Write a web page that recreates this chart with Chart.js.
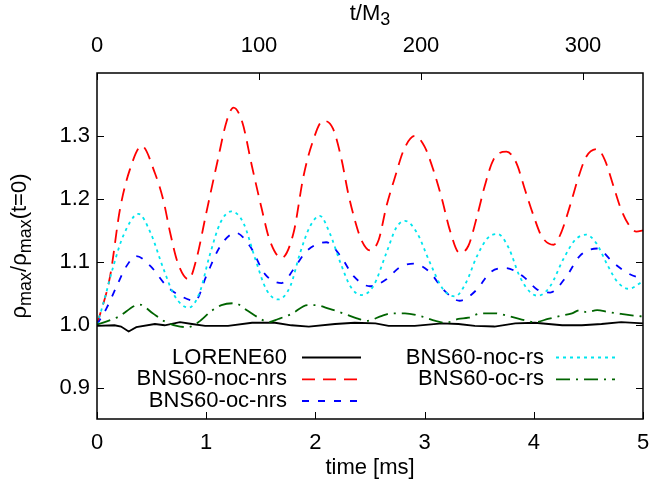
<!DOCTYPE html>
<html>
<head>
<meta charset="utf-8">
<script src="https://cdn.jsdelivr.net/npm/chart.js@4.4.1/dist/chart.umd.min.js"></script>
<style>
  html, body { margin: 0; padding: 0; background: #fff; }
  #wrap { width: 649px; height: 485px; }
</style>
</head>
<body>
<div id="wrap"><canvas id="rhoChart" width="649" height="485"></canvas></div>
<script>
// DATA (time in ms, rho_max / rho_max(t=0))
const seriesNames = ['LORENE60', 'BNS60-noc-nrs', 'BNS60-oc-nrs', 'BNS60-noc-rs', 'BNS60-oc-rs'];

const loreneTime = [0, 0.16, 0.22, 0.29, 0.36, 0.53, 0.62, 0.76, 0.87, 0.99, 1.2, 1.42, 1.63, 1.78, 1.94, 2.18, 2.36, 2.55, 2.67, 2.91, 3.16, 3.31, 3.46, 3.64, 3.83, 4.01, 4.26, 4.44, 4.62, 4.8, 5.0];
const loreneRho  = [0.998, 0.999, 0.997, 0.989, 0.996, 1.001, 0.999, 1.004, 1.001, 0.998, 0.998, 1.003, 1.003, 0.999, 0.997, 1.001, 1.003, 1.002, 0.998, 0.998, 1.002, 1.001, 0.998, 0.997, 1.002, 1.003, 0.999, 0.999, 1.001, 1.004, 1.002];

const nocNrsTime = [0, 0.12, 0.21, 0.30, 0.41, 0.53, 0.61, 0.67, 0.74, 0.84, 0.91, 1.0, 1.10, 1.19, 1.25, 1.33, 1.42, 1.51, 1.58, 1.69, 1.80, 1.89, 1.97, 2.07, 2.16, 2.24, 2.30, 2.36, 2.42, 2.50, 2.58, 2.65, 2.73, 2.81, 2.91, 3.0, 3.08, 3.16, 3.23, 3.32, 3.40, 3.48, 3.55, 3.63, 3.75, 3.84, 3.92, 4.0, 4.07, 4.18, 4.25, 4.33, 4.41, 4.48, 4.58, 4.65, 4.73, 4.80, 4.88, 4.94, 5.0];
const nocNrsRho  = [1.0, 1.077, 1.183, 1.246, 1.284, 1.241, 1.196, 1.146, 1.098, 1.072, 1.104, 1.177, 1.257, 1.325, 1.345, 1.322, 1.251, 1.183, 1.135, 1.106, 1.146, 1.235, 1.288, 1.324, 1.312, 1.262, 1.209, 1.167, 1.135, 1.118, 1.135, 1.188, 1.235, 1.278, 1.300, 1.283, 1.246, 1.199, 1.151, 1.114, 1.125, 1.172, 1.220, 1.262, 1.275, 1.257, 1.214, 1.172, 1.141, 1.127, 1.146, 1.188, 1.235, 1.267, 1.279, 1.262, 1.220, 1.183, 1.156, 1.148, 1.150];

const ocNrsTime = [0, 0.09, 0.18, 0.27, 0.36, 0.49, 0.64, 0.76, 0.90, 1.0, 1.13, 1.27, 1.40, 1.54, 1.69, 1.80, 1.92, 2.10, 2.23, 2.35, 2.50, 2.65, 2.77, 2.90, 3.05, 3.17, 3.32, 3.48, 3.60, 3.74, 3.90, 4.03, 4.15, 4.30, 4.42, 4.58, 4.73, 4.88, 5.0];
const ocNrsRho  = [1.0, 1.027, 1.061, 1.093, 1.109, 1.093, 1.061, 1.046, 1.038, 1.077, 1.125, 1.146, 1.125, 1.080, 1.066, 1.088, 1.117, 1.131, 1.109, 1.077, 1.061, 1.072, 1.091, 1.097, 1.083, 1.056, 1.038, 1.056, 1.083, 1.090, 1.077, 1.056, 1.051, 1.077, 1.109, 1.121, 1.098, 1.080, 1.073];

const nocRsTime = [0, 0.06, 0.15, 0.24, 0.38, 0.49, 0.61, 0.71, 0.84, 0.94, 1.03, 1.13, 1.23, 1.34, 1.45, 1.55, 1.66, 1.77, 1.86, 1.95, 2.04, 2.13, 2.23, 2.32, 2.42, 2.53, 2.65, 2.74, 2.82, 2.93, 3.05, 3.17, 3.28, 3.38, 3.48, 3.58, 3.67, 3.77, 3.87, 3.97, 4.04, 4.15, 4.27, 4.38, 4.48, 4.57, 4.68, 4.77, 4.87, 5.0];
const nocRsRho  = [1.0, 1.035, 1.093, 1.141, 1.176, 1.146, 1.088, 1.046, 1.027, 1.051, 1.109, 1.162, 1.180, 1.162, 1.104, 1.056, 1.040, 1.061, 1.114, 1.156, 1.173, 1.146, 1.098, 1.061, 1.047, 1.061, 1.114, 1.154, 1.165, 1.146, 1.098, 1.056, 1.045, 1.067, 1.109, 1.138, 1.144, 1.122, 1.077, 1.051, 1.046, 1.061, 1.104, 1.135, 1.143, 1.130, 1.093, 1.067, 1.057, 1.069];

const ocRsTime = [0, 0.19, 0.39, 0.51, 0.61, 0.73, 0.83, 0.93, 1.05, 1.14, 1.26, 1.38, 1.48, 1.57, 1.66, 1.78, 1.93, 2.0, 2.13, 2.27, 2.38, 2.47, 2.61, 2.70, 2.82, 2.97, 3.10, 3.19, 3.31, 3.40, 3.52, 3.64, 3.78, 3.89, 4.01, 4.13, 4.25, 4.35, 4.42, 4.48, 4.58, 4.68, 4.80, 4.93, 5.0];
const ocRsRho  = [1.0, 1.012, 1.032, 1.018, 1.006, 0.998, 0.996, 1.004, 1.022, 1.031, 1.034, 1.022, 1.011, 1.004, 1.009, 1.017, 1.031, 1.031, 1.025, 1.017, 1.010, 1.006, 1.014, 1.018, 1.018, 1.013, 1.006, 1.003, 1.009, 1.011, 1.018, 1.018, 1.013, 1.008, 1.004, 1.009, 1.014, 1.018, 1.023, 1.020, 1.023, 1.020, 1.017, 1.014, 1.013];

const timeTicks = [0, 1, 2, 3, 4, 5];
const mTicks = [0, 100, 200, 300];
const rhoTicks = [0.9, 1.0, 1.1, 1.2, 1.3];
const msPerM3 = 0.014835;   // 1 M3 in ms

const FONT = '"Liberation Sans", Arial, sans-serif';
const FS = 22;

function pts(t, v) { return t.map((x, i) => ({ x: x, y: v[i] })); }

const styles = [
  { color: '#000000', dash: [] },
  { color: '#ff0000', dash: [13, 8] },
  { color: '#0000ff', dash: [7, 9] },
  { color: '#00e5ee', dash: [3, 4] },
  { color: '#006400', dash: [14, 6, 2, 6] }
];
const series = [
  pts(loreneTime, loreneRho), pts(nocNrsTime, nocNrsRho), pts(ocNrsTime, ocNrsRho),
  pts(nocRsTime, nocRsRho), pts(ocRsTime, ocRsRho)
];

const datasets = seriesNames.map((name, i) => ({
  label: name,
  data: series[i],
  borderColor: styles[i].color,
  borderDash: styles[i].dash,
  borderWidth: i === 0 ? 1.8 : 1.8,
  pointRadius: 0,
  fill: false,
  cubicInterpolationMode: i === 0 ? 'default' : 'monotone',
  tension: 0,
  order: 5 - i
}));

// draw text with subscripts, segments [{t, sub}]
function richText(ctx, segs, cx, cy) {
  const big = FS + 'px ' + FONT, small = Math.round(FS * 0.8) + 'px ' + FONT;
  let w = 0;
  segs.forEach(s => { ctx.font = s.sub ? small : big; w += ctx.measureText(s.t).width; });
  let x = cx - w / 2;
  ctx.textBaseline = 'middle';
  ctx.textAlign = 'left';
  segs.forEach(s => {
    ctx.font = s.sub ? small : big;
    ctx.fillText(s.t, x, s.sub ? cy + 6 : cy);
    x += ctx.measureText(s.t).width;
  });
}

const gnuFrame = {
  id: 'gnuFrame',
  afterDraw(chart) {
    const ctx = chart.ctx, a = chart.chartArea;
    const sx = chart.scales.x, sx2 = chart.scales.x2, sy = chart.scales.y;
    ctx.save();
    ctx.strokeStyle = '#000';
    ctx.lineWidth = 1.5;
    ctx.strokeRect(a.left, a.top, a.right - a.left, a.bottom - a.top);
    ctx.lineWidth = 1;
    ctx.beginPath();
    const tl = 7;
    timeTicks.forEach(v => { const p = Math.round(sx.getPixelForValue(v)) + 0.5; ctx.moveTo(p, a.bottom); ctx.lineTo(p, a.bottom - tl); });
    mTicks.forEach(v => { const p = Math.round(sx2.getPixelForValue(v)) + 0.5; ctx.moveTo(p, a.top); ctx.lineTo(p, a.top + tl); });
    rhoTicks.forEach(v => {
      const p = Math.round(sy.getPixelForValue(v)) + 0.5;
      ctx.moveTo(a.left, p); ctx.lineTo(a.left + tl, p);
      ctx.moveTo(a.right, p); ctx.lineTo(a.right - tl, p);
    });
    ctx.stroke();

    // axis titles
    ctx.fillStyle = '#000';
    richText(ctx, [{ t: 't/M' }, { t: '3', sub: true }], (a.left + a.right) / 2, 14);
    ctx.font = FS + 'px ' + FONT;
    ctx.textAlign = 'center';
    ctx.textBaseline = 'middle';
    ctx.fillText('time [ms]', (a.left + a.right) / 2, 468);
    ctx.save();
    ctx.translate(20, (a.top + a.bottom) / 2);
    ctx.rotate(-Math.PI / 2);
    richText(ctx, [{ t: 'ρ' }, { t: 'max', sub: true }, { t: '/ρ' }, { t: 'max', sub: true }, { t: '(t=0)' }], 0, 0);
    ctx.restore();

    // gnuplot style key, two columns
    const cols = [{ textRight: 287, x0: 302, x1: 361 }, { textRight: 544, x0: 556, x1: 615 }];
    const rowY = [357.5, 379.3, 401];
    chart.data.datasets.forEach((ds, i) => {
      const c = cols[i < 3 ? 0 : 1], y = rowY[i < 3 ? i : i - 3];
      ctx.font = FS + 'px ' + FONT;
      ctx.textAlign = 'right';
      ctx.textBaseline = 'middle';
      ctx.fillStyle = '#000';
      ctx.fillText(ds.label, c.textRight, y);
      ctx.strokeStyle = ds.borderColor;
      ctx.lineWidth = ds.borderWidth;
      ctx.setLineDash(ds.borderDash);
      ctx.beginPath();
      ctx.moveTo(c.x0, y); ctx.lineTo(c.x1, y);
      ctx.stroke();
      ctx.setLineDash([]);
    });
    ctx.restore();
  }
};

const tickFont = { family: FONT, size: FS };
const noPad = s => { s.paddingLeft = 0; s.paddingRight = 0; s.paddingTop = 0; s.paddingBottom = 0; };

new Chart(document.getElementById('rhoChart').getContext('2d'), {
  type: 'line',
  data: { datasets: datasets },
  options: {
    responsive: false,
    animation: false,
    devicePixelRatio: 1,
    layout: { padding: { left: 0, right: 6, top: 0, bottom: 0 } },
    plugins: { legend: { display: false }, tooltip: { enabled: false } },
    scales: {
      x: {
        type: 'linear', position: 'bottom', min: 0, max: 5,
        afterBuildTicks: s => { s.ticks = timeTicks.map(v => ({ value: v })); },
        ticks: { font: tickFont, color: '#000', padding: 11, maxRotation: 0, autoSkip: false, callback: v => String(v) },
        grid: { display: false, drawTicks: false },
        border: { display: false },
        afterFit: s => { s.height = 66; noPad(s); }
      },
      x2: {
        type: 'linear', position: 'top', min: 0, max: 5 / msPerM3,
        afterBuildTicks: s => { s.ticks = mTicks.map(v => ({ value: v })); },
        ticks: { font: tickFont, color: '#000', padding: 14, maxRotation: 0, autoSkip: false, callback: v => String(v) },
        grid: { display: false, drawTicks: false },
        border: { display: false },
        afterFit: s => { s.height = 73; noPad(s); }
      },
      y: {
        type: 'linear', min: 0.85, max: 1.4,
        afterBuildTicks: s => { s.ticks = rhoTicks.map(v => ({ value: v })); },
        ticks: { font: tickFont, color: '#000', padding: 7, callback: v => Number(v).toFixed(1) },
        grid: { display: false, drawTicks: false },
        border: { display: false },
        afterFit: s => { s.width = 97; noPad(s); }
      }
    }
  },
  plugins: [gnuFrame]
});
</script>
</body>
</html>
